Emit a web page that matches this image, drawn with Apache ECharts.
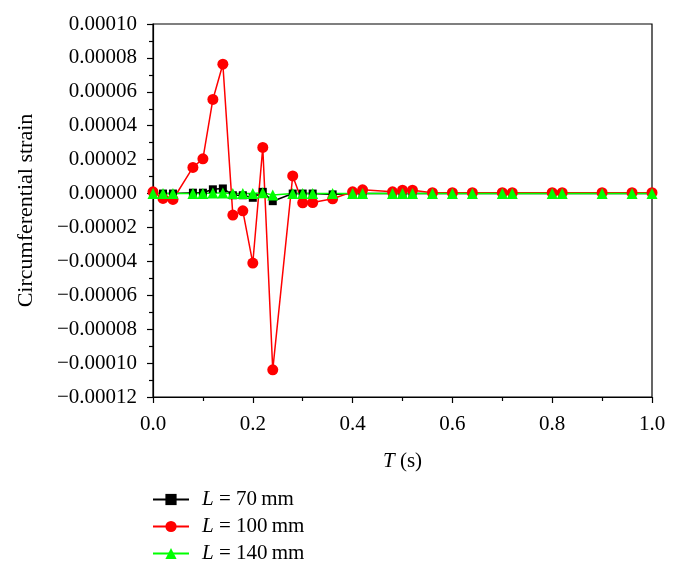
<!DOCTYPE html>
<html>
<head>
<meta charset="utf-8">
<script src="https://cdn.jsdelivr.net/npm/echarts@6/dist/echarts.min.js"></script>
<style>html,body{margin:0;padding:0;background:#fff}#c{width:678px;height:573px}</style>
</head>
<body>
<div id="c"></div>
<script>
var times = [0, 0.02, 0.04, 0.08, 0.10, 0.12, 0.14, 0.16, 0.18, 0.20, 0.22, 0.24, 0.28, 0.30, 0.32, 0.36, 0.40, 0.42, 0.48, 0.50, 0.52, 0.56, 0.60, 0.64, 0.70, 0.72, 0.80, 0.82, 0.90, 0.96, 1.0];
var strain70 = [0, 0, 0, 0.5e-6, 0.5e-6, 2.5e-6, 3e-6, -1e-6, -1e-6, -2.5e-6, 1e-6, -4.5e-6, 0, 0, 0, -0.5e-6, 0, 0, 0, 0, 0, 0, 0, 0, 0, 0, 0, 0, 0, 0, 0];
var strain100 = [1e-6, -2.9e-6, -3.5e-6, 1.54e-5, 2.05e-5, 5.55e-5, 7.63e-5, -1.27e-5, -1.02e-5, -4.1e-5, 2.72e-5, -1.04e-4, 1.04e-5, -5.5e-6, -5.3e-6, -3.1e-6, 1e-6, 2.2e-6, 1e-6, 2e-6, 2e-6, 0.5e-6, 0.5e-6, 0.5e-6, 0.5e-6, 0.5e-6, 0.5e-6, 0.5e-6, 0.5e-6, 0.5e-6, 0.5e-6];
var strain140 = [0, 0, 0, 0, 0, 0.3e-6, 0.3e-6, 0, 0, 0, 0.5e-6, -0.8e-6, 0, 0, 0, 0, 0, 0, 0, 0, 0, 0, 0, 0, 0, 0, 0, 0, 0, 0, 0];
var seriesNames = ['70', '100', '140'];
var yTicks = {min: -0.00012, max: 0.00010, step: 0.00002};
var xTicks = {min: 0, max: 1, step: 0.2};

function pairs(ys) { return times.map(function (t, i) { return [t, ys[i]]; }); }
var FONT = 'Liberation Serif';
var legendTextStyle = {fontFamily: FONT, fontSize: 21, color: '#000', padding: [0, 0, 0, 8],
  rich: {i: {fontFamily: FONT, fontSize: 21, fontStyle: 'italic', color: '#000'}}};
function legendFor(name, top) {
  return {orient: 'vertical', left: 147, top: top, itemWidth: 36, itemHeight: 14,
    data: [name], formatter: function (n) { return '{i|L} = ' + n + '\u2009mm'; },
    textStyle: legendTextStyle};
}
var chart = echarts.init(document.getElementById('c'));
chart.setOption({
  backgroundColor: '#fff',
  animation: false,
  grid: {left: 153, top: 24, right: 26, bottom: 176, show: true, borderColor: '#000', borderWidth: 1.2},
  legend: [legendFor(seriesNames[0], 484), legendFor(seriesNames[1], 511), legendFor(seriesNames[2], 538)],
  xAxis: {
    type: 'value', min: xTicks.min, max: xTicks.max, interval: xTicks.step,
    name: '{i|T} (s)', nameLocation: 'middle', nameGap: 54,
    nameTextStyle: {fontFamily: FONT, fontSize: 21, color: '#000',
      rich: {i: {fontFamily: FONT, fontSize: 21, fontStyle: 'italic', color: '#000'}}},
    axisLine: {onZero: false, lineStyle: {color: '#000', width: 1.2}},
    axisTick: {length: 6, inside: false, lineStyle: {color: '#000', width: 1.2}},
    minorTick: {show: true, splitNumber: 2, length: 4, lineStyle: {color: '#000', width: 1.2}},
    splitLine: {show: false},
    axisLabel: {fontFamily: FONT, fontSize: 21, color: '#000', margin: 17,
      formatter: function (v) { return v.toFixed(1); }}
  },
  yAxis: {
    type: 'value', min: yTicks.min, max: yTicks.max, interval: yTicks.step,
    name: 'Circumferential strain', nameLocation: 'middle', nameGap: 116,
    nameTextStyle: {fontFamily: FONT, fontSize: 22, color: '#000'},
    axisLine: {show: true, onZero: false, lineStyle: {color: '#000', width: 1.2}},
    axisTick: {show: true, length: 6, inside: false, lineStyle: {color: '#000', width: 1.2}},
    minorTick: {show: true, splitNumber: 2, length: 4, lineStyle: {color: '#000', width: 1.2}},
    splitLine: {show: false},
    axisLabel: {fontFamily: FONT, fontSize: 21, color: '#000', margin: 16,
      formatter: function (v) {
        var s = Math.abs(v).toFixed(5);
        return (v < -1e-12 ? '\u2212' : '') + s;
      }}
  },
  series: [
    {name: '70', type: 'line', data: pairs(strain70), symbol: 'rect', symbolSize: 8,
      itemStyle: {color: '#000'}, lineStyle: {color: '#000', width: 1.5}},
    {name: '100', type: 'line', data: pairs(strain100), symbol: 'circle', symbolSize: 11,
      itemStyle: {color: '#ff0000'}, lineStyle: {color: '#ff0000', width: 1.5}},
    {name: '140', type: 'line', data: pairs(strain140), symbol: 'triangle', symbolSize: 11,
      itemStyle: {color: '#00ff00'}, lineStyle: {color: '#00ff00', width: 1.5}}
  ]
});
</script>
</body>
</html>
